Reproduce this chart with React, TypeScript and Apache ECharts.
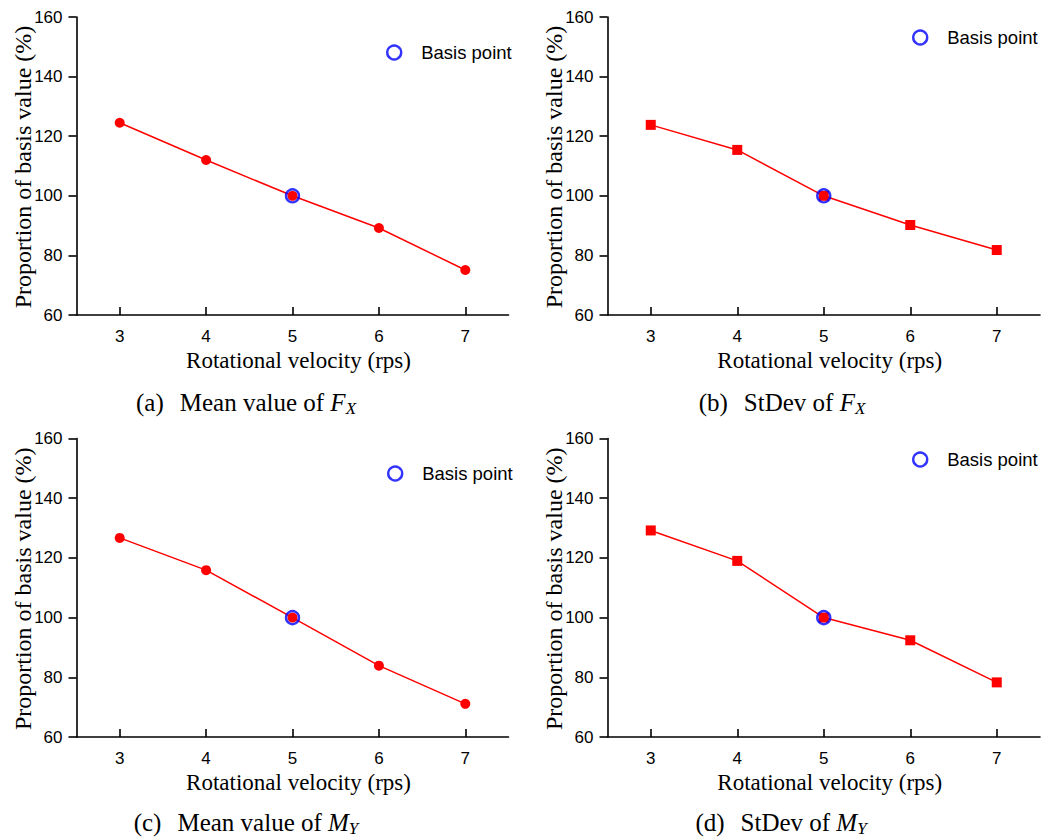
import React, { useEffect, useRef } from "react";
import * as echarts from "echarts";

const velocities = [3, 4, 5, 6, 7];
const meanFx = [124.5, 112.0, 100, 89.2, 75.1];
const stdFx = [123.8, 115.4, 100, 90.2, 81.8];
const meanMy = [126.7, 115.9, 100, 83.9, 71.1];
const stdMy = [129.2, 119.0, 100, 92.4, 78.3];
const basisPoint = [5, 100];
const yTicks = { min: 60, max: 160, interval: 20 };
const xRange = { min: 2.5, max: 7.5 };
const xName = "Rotational velocity (rps)";
const yName = "Proportion of basis value (%)";

const panels = [
  { key: "a", data: meanFx, symbol: "circle", label: "(a)", title: "Mean value of ", sym: "F", sub: "X" },
  { key: "b", data: stdFx, symbol: "rect", label: "(b)", title: "StDev of ", sym: "F", sub: "X" },
  { key: "c", data: meanMy, symbol: "circle", label: "(c)", title: "Mean value of ", sym: "M", sub: "Y" },
  { key: "d", data: stdMy, symbol: "rect", label: "(d)", title: "StDev of ", sym: "M", sub: "Y" },
];

const grids = [
  { left: 76.5, top: 17, width: 432, height: 298 },
  { left: 607.5, top: 17, width: 432.5, height: 298 },
  { left: 76.5, top: 438.5, width: 432, height: 298.5 },
  { left: 607.5, top: 438.5, width: 432.5, height: 298.5 },
];
const legendPos = [
  { left: 386, top: 43 },
  { left: 912, top: 28 },
  { left: 387, top: 464 },
  { left: 912, top: 450 },
];
const captionPos = [
  { x: 246, y: 402 },
  { x: 782, y: 402 },
  { x: 246, y: 822 },
  { x: 781, y: 822 },
];

const SERIF = "Times New Roman";
const SANS = "Liberation Sans";

export default function App() {
  const ref = useRef<HTMLDivElement>(null);
  useEffect(() => {
    document.body.style.margin = "0";
    if (!ref.current) return;
    const chart = echarts.init(ref.current, null, { renderer: "svg" });
    const axisLine = { lineStyle: { color: "#000", width: 1.6 } };
    const xAxes = grids.map((_, i) => ({
      type: "value",
      gridIndex: i,
      min: xRange.min,
      max: xRange.max,
      axisLine: { show: true, onZero: false, ...axisLine },
      axisTick: { show: true, inside: true, length: 8, lineStyle: { color: "#000", width: 1.6 }, customValues: velocities },
      axisLabel: { customValues: velocities, margin: 13, fontFamily: SANS, fontSize: 17, color: "#000" },
      splitLine: { show: false },
    }));
    const yAxes = grids.map((_, i) => ({
      type: "value",
      gridIndex: i,
      min: yTicks.min,
      max: yTicks.max,
      interval: yTicks.interval,
      axisLine: { show: true, ...axisLine },
      axisTick: { show: true, inside: false, length: 8, lineStyle: { color: "#000", width: 1.6 } },
      axisLabel: { margin: 14, fontFamily: SANS, fontSize: 17, color: "#000" },
      splitLine: { show: false },
    }));
    const series: any[] = [];
    panels.forEach((p, i) => {
      series.push({
        type: "line",
        name: "data" + p.key,
        xAxisIndex: i,
        yAxisIndex: i,
        data: velocities.map((v, k) => [v, p.data[k]]),
        symbol: p.symbol,
        symbolSize: 10,
        showSymbol: true,
        lineStyle: { color: "#ff0000", width: 1.5 },
        itemStyle: { color: "#ff0000" },
        z: 2,
      });
      series.push({
        type: "scatter",
        name: "Basis point",
        xAxisIndex: i,
        yAxisIndex: i,
        data: [basisPoint],
        symbol: "circle",
        symbolSize: 13,
        itemStyle: { color: "rgba(0,0,0,0)", borderColor: "#0000ff", borderWidth: 2.4 },
        z: 3,
      });
    });
    const legends = legendPos.map((lp) => ({
      left: lp.left,
      top: lp.top,
      padding: 0,
      itemWidth: 44,
      itemHeight: 14,
      selectedMode: false,
      data: [
        {
          name: "Basis point",
          icon: "circle",
          itemStyle: { color: "rgba(0,0,0,0)", borderColor: "#0000ff", borderWidth: 2.4 },
        },
      ],
      textStyle: { fontFamily: SANS, fontSize: 18.5, color: "#000" },
    }));
    const graphics: any[] = [];
    panels.forEach((p, i) => {
      const g = grids[i];
      graphics.push({
        type: "text",
        x: captionPos[i].x,
        y: captionPos[i].y,
        style: {
          text: `{l|${p.label}}{t|${p.title}}{i|${p.sym}}{s|${p.sub}}`,
          align: "center",
          verticalAlign: "middle",
          textAlign: "center",
          textVerticalAlign: "middle",
          fill: "#000",
          rich: {
            l: { fontFamily: SERIF, fontSize: 25, lineHeight: 29, fill: "#000", color: "#000", padding: [0, 16, 0, 0] },
            t: { fontFamily: SERIF, fontSize: 25, lineHeight: 29, fill: "#000", color: "#000" },
            i: { fontFamily: SERIF, fontSize: 25, lineHeight: 29, fontStyle: "italic", fill: "#000", color: "#000" },
            s: { fontFamily: SERIF, fontSize: 17, lineHeight: 15, fontStyle: "italic", verticalAlign: "bottom", fill: "#000", color: "#000" },
          },
        },
      });
      graphics.push({
        type: "text",
        x: g.left + g.width / 2 + 6,
        y: g.top + g.height + 45,
        style: {
          text: xName,
          fontFamily: SERIF,
          fontSize: 23,
          fontWeight: "normal",
          fontStyle: "normal",
          align: "center",
          verticalAlign: "middle",
          textAlign: "center",
          textVerticalAlign: "middle",
          fill: "#000",
        },
      });
      graphics.push({
        type: "text",
        x: g.left - 54,
        y: g.top + g.height / 2 + 1,
        rotation: Math.PI / 2,
        style: {
          text: yName,
          fontFamily: SERIF,
          fontSize: 24,
          fontWeight: "normal",
          fontStyle: "normal",
          align: "center",
          verticalAlign: "middle",
          textAlign: "center",
          textVerticalAlign: "middle",
          fill: "#000",
        },
      });
    });
    chart.setOption({
      animation: false,
      backgroundColor: "#fff",
      grid: grids.map((g) => ({ ...g })),
      xAxis: xAxes,
      yAxis: yAxes,
      legend: legends,
      series,
      graphic: graphics,
    });
    return () => chart.dispose();
  }, []);
  return <div ref={ref} style={{ width: 1043, height: 838 }} />;
}
